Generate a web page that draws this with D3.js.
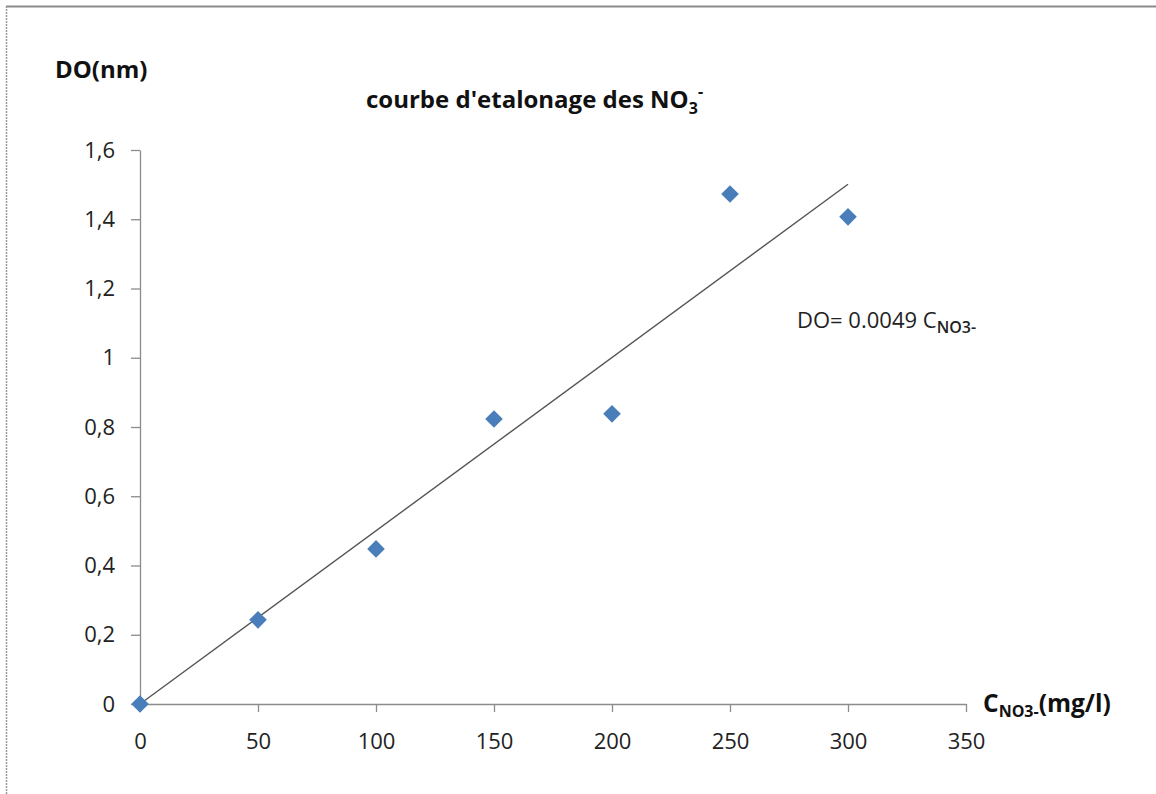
<!DOCTYPE html>
<html>
<head>
<meta charset="utf-8">
<script src="https://cdn.jsdelivr.net/npm/d3@7/dist/d3.min.js"></script>
<style>
  html, body { margin: 0; padding: 0; background: #fff; }
  svg { display: block; font-family: "Open Sans", Lato, sans-serif; }
</style>
</head>
<body>
<svg id="chart" width="1156" height="794"></svg>
<script>
// Calibration standards: nitrate concentration (mg/l) and optical density
const concentrations = [0, 50, 100, 150, 200, 250, 300];
const densities = [0, 0.243, 0.448, 0.823, 0.838, 1.473, 1.407];
const xTicks = [0, 50, 100, 150, 200, 250, 300, 350];
const yTicks = [0, 0.2, 0.4, 0.6, 0.8, 1, 1.2, 1.4, 1.6];

const FONT = "'Open Sans', Lato, sans-serif";
const svg = d3.select("#chart");

// frame of the chart area
svg.append("line").attr("x1", 6).attr("y1", 6.5).attr("x2", 1156).attr("y2", 6.5)
  .attr("stroke", "#8a8a8a").attr("stroke-width", 2);
svg.append("line").attr("x1", 6.5).attr("y1", 6).attr("x2", 6.5).attr("y2", 794)
  .attr("stroke", "#9a9a9a").attr("stroke-width", 1.5).attr("stroke-dasharray", "2,1");

const x = d3.scaleLinear().domain([0, 350]).range([140, 966]);
const y = d3.scaleLinear().domain([0, 1.6]).range([704, 150]);

const fmt = d => String(d).replace(".", ",");

// y axis
const yAxis = svg.append("g").attr("transform", `translate(${x(0)},0)`)
  .call(d3.axisLeft(y).tickValues(yTicks).tickFormat(fmt).tickSizeInner(9).tickSizeOuter(0).tickPadding(16));
// x axis
const xAxis = svg.append("g").attr("transform", `translate(0,${y(0)})`)
  .call(d3.axisBottom(x).tickValues(xTicks).tickFormat(d3.format("d")).tickSizeInner(8).tickSizeOuter(0).tickPadding(21));

[yAxis, xAxis].forEach(g => {
  g.selectAll("path, line").attr("stroke", "#8c8c8c").attr("stroke-width", 1.3);
  g.selectAll("text").attr("fill", "#222").style("font-size", "22px")
    .style("font-family", FONT);
});
xAxis.selectAll("text").attr("dy", "0.71em");

// linear trend through the origin (least squares)
const slope = d3.sum(concentrations, (c, i) => c * densities[i]) / d3.sum(concentrations, c => c * c);
const xMax = d3.max(concentrations);
svg.append("line")
  .attr("x1", x(0)).attr("y1", y(0))
  .attr("x2", x(xMax)).attr("y2", y(slope * xMax))
  .attr("stroke", "#555").attr("stroke-width", 1.4);

// data markers
const diamond = d3.symbol().type(d3.symbolSquare).size(155);
svg.append("g").selectAll("path")
  .data(concentrations.map((c, i) => [c, densities[i]]))
  .join("path")
  .attr("d", diamond)
  .attr("transform", d => `translate(${x(d[0])},${y(d[1])}) rotate(45)`)
  .attr("fill", "#4a7ebb");

// texts
svg.append("text").attr("x", 55).attr("y", 78)
  .style("font-size", "24px").style("font-weight", "bold").attr("fill", "#111")
  .text("DO(nm)");

const title = svg.append("text").attr("x", 366).attr("y", 108)
  .style("font-size", "24px").style("font-weight", "bold").attr("fill", "#111");
title.append("tspan").text("courbe d'etalonage des NO");
title.append("tspan").attr("dy", 6).style("font-size", "16px").text("3");
title.append("tspan").attr("dy", -17).style("font-size", "16px").text("-");

const eq = svg.append("text").attr("x", 797).attr("y", 328)
  .style("font-size", "22px").attr("fill", "#222");
eq.append("tspan").text("DO= 0.0049 C");
eq.append("tspan").attr("dy", 5).style("font-size", "16px").style("font-weight", 600).text("NO3-");

const xl = svg.append("text").attr("x", 983).attr("y", 712)
  .style("font-size", "24.5px").style("font-weight", "bold").attr("fill", "#111");
xl.append("tspan").text("C");
xl.append("tspan").attr("dy", 5).style("font-size", "16px").text("NO3-");
xl.append("tspan").attr("dy", -5).text("(mg/l)");
</script>
</body>
</html>
